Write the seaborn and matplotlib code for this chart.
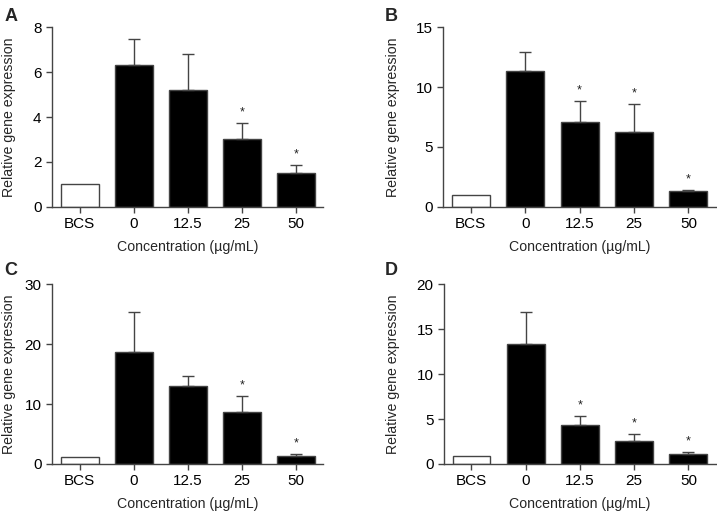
import numpy as np
import pandas as pd
import seaborn as sns
import matplotlib.pyplot as plt

# Data
groups = ["BCS", "0", "12.5", "25", "50"]

mean_a = [1.0, 6.33, 5.22, 3.03, 1.50]
top_a = [1.0, 7.48, 6.79, 3.73, 1.85]
mean_b = [1.0, 11.32, 7.11, 6.23, 1.30]
top_b = [1.0, 12.93, 8.86, 8.58, 1.41]
mean_c = [1.1, 18.72, 12.94, 8.61, 1.39]
top_c = [1.1, 25.33, 14.67, 11.33, 1.67]
mean_d = [0.93, 13.33, 4.30, 2.59, 1.15]
top_d = [0.93, 16.89, 5.33, 3.33, 1.33]

star_a = [False, False, False, True, True]
star_b = [False, False, True, True, True]
star_c = [False, False, False, True, True]
star_d = [False, False, True, True, True]

ymax = [8, 15, 30, 20]
ystep = [2, 5, 10, 5]
letters = ["A", "B", "C", "D"]

sns.set_style("ticks")
plt.rcParams['font.family'] = ['Liberation Sans', 'DejaVu Sans']

fig = plt.figure(figsize=(7.17, 5.11), dpi=100)
positions = [
    [0.0725, 0.595, 0.378, 0.352],
    [0.618, 0.595, 0.380, 0.352],
    [0.0725, 0.092, 0.378, 0.352],
    [0.619, 0.092, 0.379, 0.352],
]
label_xy = [(0.006, 0.985), (0.537, 0.985), (0.006, 0.487), (0.537, 0.487)]
ylab_x = [0.012, 0.548, 0.012, 0.548]

panels = [(mean_a, top_a, star_a), (mean_b, top_b, star_b),
          (mean_c, top_c, star_c), (mean_d, top_d, star_d)]

edge = "#444444"
for i, (means, tops, stars) in enumerate(panels):
    ax = fig.add_axes(positions[i])
    df = pd.DataFrame({"group": groups, "value": means})
    colors = ["white"] + ["black"] * 4
    sns.barplot(data=df, x="group", y="value", hue="group", palette=colors,
                legend=False, width=0.7, edgecolor=edge, linewidth=1.0, ax=ax)
    x = np.arange(len(groups))
    up = np.array(tops) - np.array(means)
    ax.errorbar(x[1:], means[1:], yerr=[np.zeros(4), up[1:]], fmt="none",
                ecolor=edge, elinewidth=1.0, capsize=4, capthick=1.0)
    for j in range(len(groups)):
        if stars[j]:
            ax.text(x[j], tops[j] + ymax[i] * 0.025, "*", ha="center",
                    va="bottom", fontsize=9, color="#222222")
    ax.set_xlim(-0.51, 4.5)
    ax.set_ylim(0, ymax[i])
    ax.set_yticks(np.arange(0, ymax[i] + 1, ystep[i]))
    sns.despine(ax=ax)
    for s in ["left", "bottom"]:
        ax.spines[s].set_color(edge)
        ax.spines[s].set_linewidth(1.0)
    ax.tick_params(axis="both", colors=edge, labelcolor="black", labelsize=11,
                   length=4, width=1.0)
    ax.set_xlabel("Concentration (µg/mL)", fontsize=10.2, labelpad=6)
    ax.set_ylabel("Relative gene expression", fontsize=10.2)
    ax.yaxis.set_label_coords(ylab_x[i], 0.5, transform=fig.transFigure)
    ax.yaxis.label.set_va("center")
    fig.text(label_xy[i][0], label_xy[i][1], letters[i], fontsize=13,
             fontweight="bold", va="top", ha="left")
    # keep the label centred on the axes height
    ax.yaxis.set_label_coords(ylab_x[i], positions[i][1] + positions[i][3] / 2,
                              transform=fig.transFigure)

fig.savefig("out.png", dpi=100)
